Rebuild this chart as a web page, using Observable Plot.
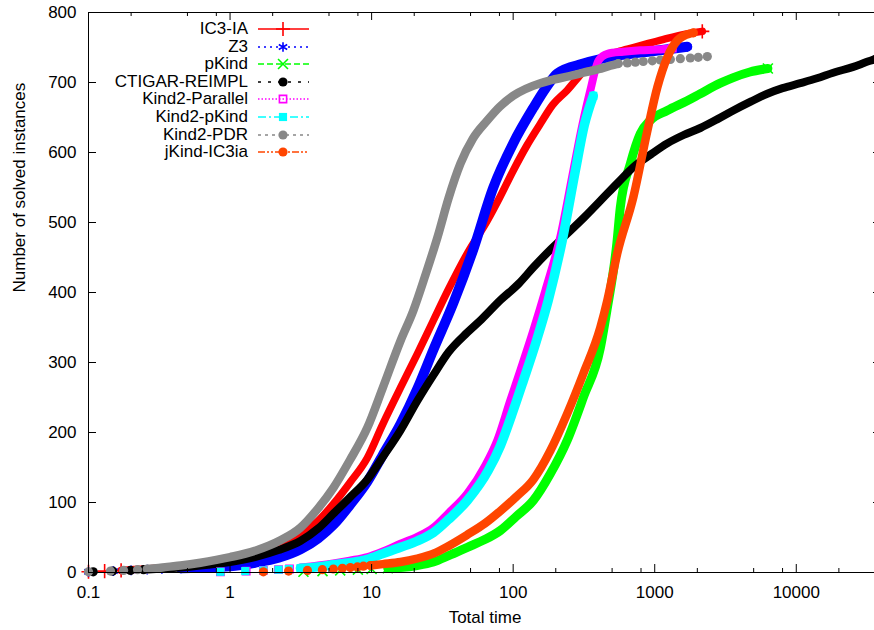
<!DOCTYPE html>
<html><head><meta charset="utf-8">
<script src="https://cdn.jsdelivr.net/npm/d3@7"></script>
<script src="https://cdn.jsdelivr.net/npm/@observablehq/plot@0.6"></script>
<style>
body{margin:0;background:#fff;}
#wrap{position:relative;width:874px;height:630px;overflow:hidden;font-family:"Liberation Sans",Arial,sans-serif;background:#fff;}
#wrap svg{max-width:none !important;}
#legend{position:absolute;left:0;top:0;width:330px;height:170px;font-size:17px;color:#000;}
.row{position:absolute;left:0;height:18px;line-height:18px;white-space:nowrap;}
.row span{position:absolute;left:0;width:248px;text-align:right;}
.row svg{position:absolute;left:248px;top:0;}
</style></head><body><div id="wrap"></div>
<script>
// ---- data: [total time, number of solved instances] ----
const seriesNames = ["IC3-IA","Z3","pKind","CTIGAR-REIMPL","Kind2-Parallel","Kind2-pKind","Kind2-PDR","jKind-IC3ia"];
const seriesColors = ["#ff0000","#0000ff","#00ff00","#000000","#ff00ff","#00ffff","#888888","#ff4500"];
const xTickValues = [0.1, 1, 10, 100, 1000, 10000];
const xMinorTickValues = [0.2,0.5,0.8,2,5,8,20,50,80,200,500,800,2000,5000,8000,20000];
const yTickValues = [0,100,200,300,400,500,600,700,800];

const ic3ia = [[0.1,1],[0.13,2],[0.17,3],[0.2,4],[0.25,5],[0.3,6],[0.4,8],[0.55,11],[0.75,14],[1.0,18],[1.5,26],[2.2,37],[3.14,54],[4.2,74],[5.37,98],[7,128],[9.34,164],[12,212],[16,264],[21,312],[27.3,360],[35,405],[47.5,456],[65.8,503],[80,535],[100,574],[125,610],[155.6,641],[190,668],[241,689],[290,708],[334,721],[413,734],[550,744],[706,750],[950,757],[1227,763],[1650,769],[2168,773]];
const z3 = [[0.1,1],[0.15,2],[0.2,3],[0.26,4],[0.33,5],[0.45,6],[0.6,7],[0.8,8],[1.0,9],[1.5,14],[2.2,21],[3.14,33],[4.2,49],[5.37,68],[7,96],[9.34,130],[12,168],[16,212],[21,262],[27.3,318],[37.8,385],[52.4,462],[72.4,550],[100,613],[139,664],[170,692],[205,713],[313,727],[571,739],[1096,746],[1698,751]];
const pkind = [[3.3,1],[4.5,2],[6,3],[8,4],[10,5],[13,6],[16,7],[21,10],[27.3,15],[35,24],[47.5,36],[63,47],[81.2,60],[105,80],[139,103],[183,141],[241,189],[313,250],[413,321],[460,375],[540,470],[571,521],[673,584],[791,627],[931,646],[1227,660],[1698,674],[2100,684],[2904,699],[3590,707],[4700,715],[6300,720]];
const ctigar = [[0.108,1],[0.148,2],[0.198,3],[0.245,4],[0.3,5],[0.38,6],[0.5,8],[0.7,11],[1.0,15],[1.5,22],[2.2,32],[3.14,45],[4.2,63],[5.37,84],[7,107],[9.34,133],[12,165],[16,203],[21,245],[27.3,282],[35,315],[47.5,343],[60,362],[81.2,389],[110,413],[139,436],[185,462],[241,484],[320,508],[413,531],[550,557],[706,579],[950,598],[1227,613],[1600,625],[2100,635],[2800,648],[3590,660],[4800,673],[6240,684],[8000,692],[10670,699],[14000,706],[18240,714],[25000,722],[33300,731],[36000,733]];
const kind2Parallel = [[0.855,1],[1.3,2],[1.72,3],[2.2,4],[2.63,5],[3.14,7],[4.2,10],[5.37,13],[7,17],[9.34,22],[12,30],[16,41],[21,51],[27.3,64],[35,85],[47.5,113],[63.6,153],[77.3,189],[95.5,246],[112.5,289],[139,346],[169,403],[215,479],[266,574],[308,639],[351,689],[400,731],[463,741],[600,744],[791,746],[1050,747],[1331,749]];
const kind2pKind = [[0.855,1],[1.28,2],[1.72,3],[2.2,4],[2.6,5],[3.14,6],[4.2,8],[5.37,11],[7,14],[9.34,19],[12,27],[16,36],[21,45],[27.3,57],[35,76],[47.5,103],[66.8,146],[81.2,181],[100,231],[118,274],[146,331],[177,389],[222,474],[275,574],[318,639],[368,681]];
const kind2PDR = [[0.1,1],[0.143,2],[0.177,3],[0.222,4],[0.26,5],[0.3,6],[0.36,8],[0.447,10],[0.618,14],[0.8,18],[1.0,22],[1.5,31],[2.27,46],[3.14,64],[4.2,92],[5.37,121],[7,160],[9.34,207],[12,264],[16,331],[19.7,374],[24,425],[29.2,479],[35,535],[42.4,584],[52,620],[65.8,646],[80,665],[100,681],[155.6,699],[183,703],[250,709],[313,714],[400,719],[486,724],[553,727],[641,728],[730,729],[830,730],[962,731],[1096,732],[1290,733],[1517,734],[1784,735],[2031,736],[2352,737]];
const jkindIC3ia = [[1.72,1],[2.59,2],[3.52,3],[4.49,4],[5.37,5],[6.22,6],[7.08,7],[7.94,8],[8.75,9],[9.81,10],[12,12],[16,15],[21,20],[27.3,27],[35,38],[47.5,54],[63,70],[81.2,88],[105,108],[139,133],[183,174],[241,227],[313,284],[413,350],[463,389],[544,456],[706,536],[887,631],[1043,693],[1227,736],[1445,760],[1784,770],[1875,771]];

const seriesData = [ic3ia, z3, pkind, ctigar, kind2Parallel, kind2pKind, kind2PDR, jkindIC3ia];

// ---- styles ----
const seriesSymbols = ["plus","asterisk","times","circle","square2","square","circle","circle"];
const seriesFilled = [false,false,false,true,false,true,true,true];
const seriesDash = [null,"2,4","6,3","3,7","1.5,2","8,3,2,3","3,4","7,2,2,2,2,2"];
const seriesWidth = [7.5,10,9,8,8,9.5,8.5,8.5];
const lineFrom = [3,6,6,4,6,6,5,10];
const lineTo = [1e9,1e9,1e9,1e9,1e9,1e9,727,1e9];

const W = 882, H = 630;
const marks = [];
seriesData.forEach((data, i) => {
  const c = seriesColors[i];
  const dense = data.filter(d => d[1] >= lineFrom[i] && d[1] <= lineTo[i]);
  const markers = data.filter((d, j) => d[1] <= lineFrom[i] || d[1] >= lineTo[i] || j === data.length - 1);
  marks.push(Plot.line(dense, {x: d => d[0], y: d => d[1], stroke: c, strokeWidth: seriesWidth[i], curve: "monotone-x", strokeLinecap: "round", strokeLinejoin: "round"}));
  marks.push(Plot.dot(markers, {x: d => d[0], y: d => d[1], symbol: seriesSymbols[i], r: 4.6,
    stroke: seriesFilled[i] ? "none" : c, fill: seriesFilled[i] ? c : "none", strokeWidth: 1.6}));
});

const plotH = H - 12 - 58, plotW = W - 1 - 88;
const chart = Plot.plot({
  width: W, height: H,
  marginLeft: 88, marginRight: 1, marginTop: 12, marginBottom: 58,
  style: {fontFamily: "Liberation Sans, Arial, sans-serif", fontSize: "17px", background: "#fff", color: "#000", maxWidth: "none"},
  x: {type: "log", domain: [0.1, 40000]},
  y: {domain: [0, 800]},
  marks: [
    ...marks,
    Plot.frame({stroke: "#000", strokeWidth: 1}),
    Plot.ruleX(xTickValues, {x: d => d, insetTop: plotH - 8, stroke: "#000"}),
    Plot.ruleX(xTickValues, {x: d => d, insetBottom: plotH - 8, stroke: "#000"}),
    Plot.ruleX(xMinorTickValues, {x: d => d, insetTop: plotH - 4, stroke: "#000"}),
    Plot.ruleX(xMinorTickValues, {x: d => d, insetBottom: plotH - 4, stroke: "#000"}),
    Plot.ruleY(yTickValues, {y: d => d, insetRight: plotW - 8, stroke: "#000"}),
    Plot.ruleY(yTickValues, {y: d => d, insetLeft: plotW - 8, stroke: "#000"}),
    Plot.axisX({ticks: xTickValues, tickFormat: d => String(d), tickSize: 0, tickPadding: 13, label: null, fontSize: "17px"}),
    Plot.axisY({ticks: yTickValues, tickFormat: d => String(d), tickSize: 0, tickPadding: 12, label: null, fontSize: "17px"}),
    Plot.text(["Total time"], {frameAnchor: "bottom", text: d => d, dy: 45.5, lineAnchor: "middle", fontSize: "17px"}),
    Plot.text(["Number of solved instances"], {frameAnchor: "left", text: d => d, rotate: -90, dx: -68.5, lineAnchor: "middle", fontSize: "17px"})
  ]
});

const wrap = document.getElementById("wrap");
wrap.appendChild(chart);

// ---- legend ----
const symMap = {plus: d3.symbolPlus, asterisk: d3.symbolAsterisk, times: d3.symbolTimes, circle: d3.symbolCircle, square2: d3.symbolSquare2, square: d3.symbolSquare};
const legend = document.createElement("div");
legend.id = "legend";
seriesNames.forEach((name, i) => {
  const row = document.createElement("div");
  row.className = "row";
  row.style.top = (29 + i * 17.6 - 9) + "px";
  const span = document.createElement("span");
  span.textContent = name;
  row.appendChild(span);
  const svg = d3.create("svg").attr("width", 70).attr("height", 18);
  svg.append("line").attr("x1", 10).attr("x2", 61).attr("y1", 9).attr("y2", 9)
    .attr("stroke", seriesColors[i]).attr("stroke-width", 1.6)
    .attr("stroke-dasharray", seriesDash[i]);
  svg.append("path").attr("d", d3.symbol(symMap[seriesSymbols[i]], 4.6 * 4.6 * Math.PI)())
    .attr("transform", "translate(35,9)")
    .attr("fill", seriesFilled[i] ? seriesColors[i] : "none")
    .attr("stroke", seriesFilled[i] ? "none" : seriesColors[i])
    .attr("stroke-width", 1.6);
  row.appendChild(svg.node());
  legend.appendChild(row);
});
wrap.appendChild(legend);
</script>
</body></html>
